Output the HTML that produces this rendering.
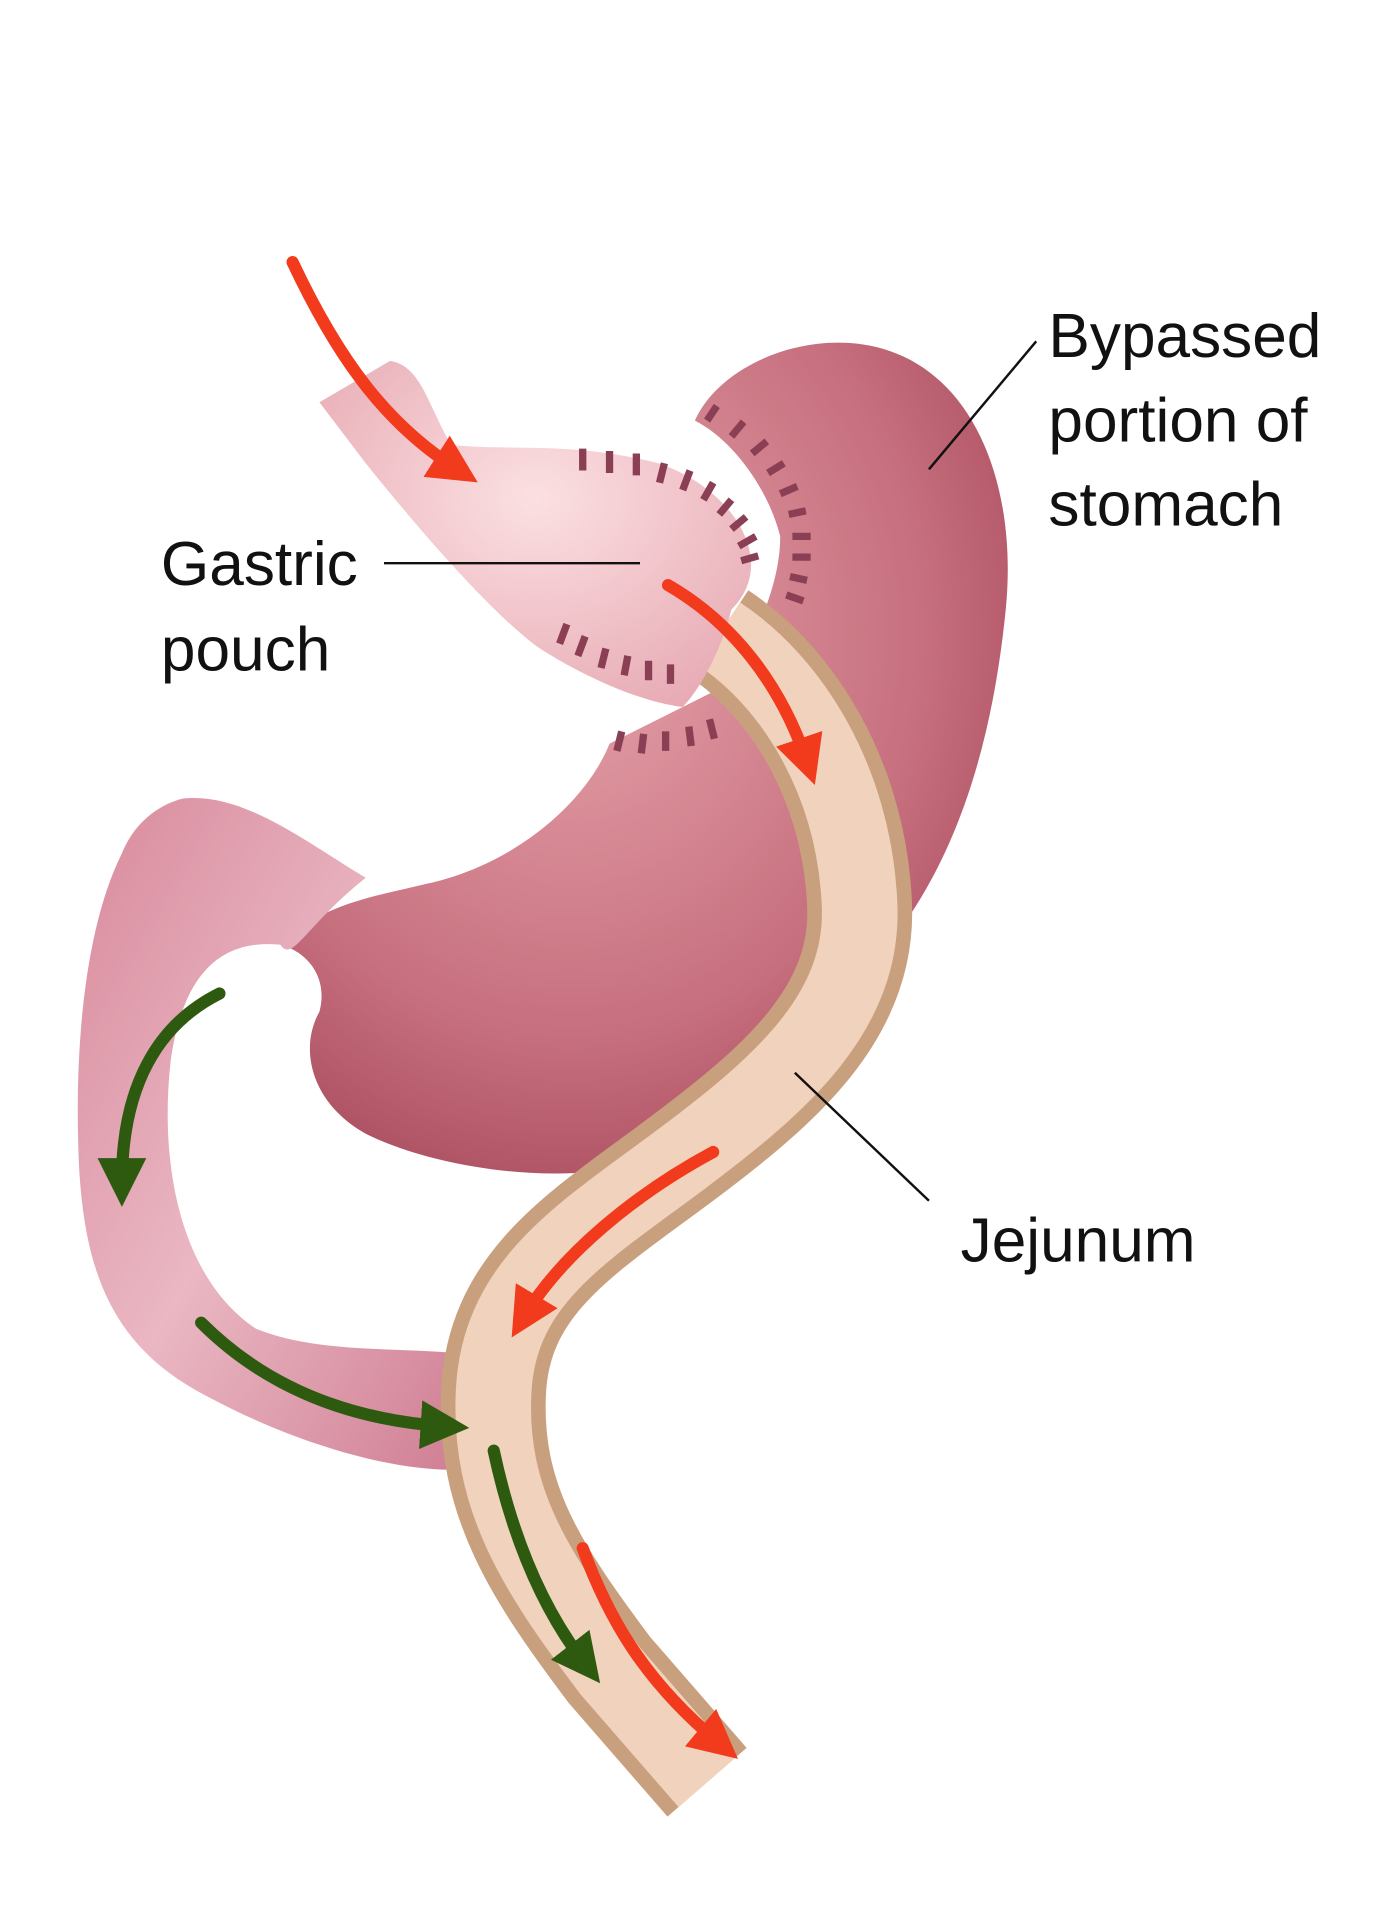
<!DOCTYPE html>
<html><head><meta charset="utf-8"><style>
html,body{margin:0;padding:0;background:#fff}
svg{display:block}
text{font-family:"Liberation Sans",sans-serif;font-size:51px;fill:#111}
</style></head><body>
<svg width="1380" height="1920" viewBox="0 0 1132 1575" preserveAspectRatio="none" xmlns="http://www.w3.org/2000/svg">
<defs>
<radialGradient id="st" cx="0.4" cy="0.35" r="0.8">
<stop offset="0" stop-color="#e6a3aa"/><stop offset="0.6" stop-color="#c7707f"/><stop offset="1" stop-color="#9e3f52"/></radialGradient>
<radialGradient id="pk" cx="0.5" cy="0.4" r="0.7">
<stop offset="0" stop-color="#fbe0e2"/><stop offset="1" stop-color="#e7a9b3"/></radialGradient>
<linearGradient id="du" x1="0" y1="0" x2="1" y2="1">
<stop offset="0" stop-color="#d88a9c"/><stop offset="0.5" stop-color="#eab7c3"/><stop offset="1" stop-color="#cf7e92"/></linearGradient>
<marker id="ar" viewBox="0 0 10 10" refX="5" refY="5" markerWidth="4" markerHeight="4" orient="auto"><path d="M0,0 L10,5 L0,10 z" fill="#f23a1c"/></marker>
<marker id="ag" viewBox="0 0 10 10" refX="5" refY="5" markerWidth="4" markerHeight="4" orient="auto"><path d="M0,0 L10,5 L0,10 z" fill="#2e5a10"/></marker>
</defs>
<path d="M570,345 C590,300 660,270 720,285 C800,305 835,400 825,500 C815,600 790,690 740,760 C700,830 620,900 540,950 C470,975 360,960 300,930 C255,905 245,860 262,830 C270,800 250,780 230,775 C265,740 310,735 350,725 C420,710 480,660 500,610 L600,560 C620,520 640,480 640,440 C630,400 600,360 570,345 Z" fill="url(#st)"/>
<path d="M150,655 C200,650 250,690 300,720 C250,760 240,790 230,775 C180,770 150,800 140,870 C130,960 150,1050 210,1090 C260,1110 320,1105 375,1110 L385,1205 C330,1210 240,1185 160,1140 C90,1100 70,1040 65,960 C60,860 70,760 100,700 C110,675 130,660 150,655 Z" fill="url(#du)"/>
<path d="M590,520 C650,560 700,640 705,740 C710,830 640,890 560,950 C480,1010 410,1050 405,1140 C400,1230 440,1290 500,1370 L580,1462" fill="none" stroke="#c9a07e" stroke-width="86" stroke-linecap="butt"/>
<path d="M590,520 C650,560 700,640 705,740 C710,830 640,890 560,950 C480,1010 410,1050 405,1140 C400,1230 440,1290 500,1370 L580,1462" fill="none" stroke="#f1d3bd" stroke-width="62" stroke-linecap="butt"/>
<path d="M262,330 L320,296 C345,300 350,330 370,365 C420,370 470,362 540,380 C600,400 640,460 600,500 C590,540 570,570 560,580 C520,575 470,550 440,530 C400,500 340,430 300,380 Z" fill="url(#pk)"/>
<g stroke="#8a3f55" stroke-width="6">
<path d="M478,368v18M500,370v18M522,372v18M545,380l-4,16M566,386l-6,16M585,396l-8,14M600,410l-10,12M612,424l-12,10M620,440l-14,8M622,456l-14,4"/>
<path d="M580,345l8,-12M600,358l10,-12M617,372l12,-10M630,388l13,-8M640,405l14,-6M647,422l14,-3M650,440h15M650,457h15M648,473l14,3M645,488l14,5"/>
<path d="M465,512l-6,16M480,522l-6,16M497,532l-4,16M515,538l-3,16M532,542v16M550,545v16"/>
<path d="M510,600l-4,16M528,602l-2,16M546,600v16M565,596l2,16M582,590l4,16"/>
</g>
<g fill="none" stroke-width="10" stroke-linecap="round">
<path d="M240,215 C280,300 320,350 375,385" stroke="#f23a1c" marker-end="url(#ar)"/>
<path d="M548,480 C600,510 640,560 662,625" stroke="#f23a1c" marker-end="url(#ar)"/>
<path d="M585,945 C520,980 460,1030 430,1080" stroke="#f23a1c" marker-end="url(#ar)"/>
<path d="M478,1270 C500,1330 530,1380 590,1430" stroke="#f23a1c" marker-end="url(#ar)"/>
<path d="M180,815 C130,840 100,890 100,970" stroke="#2e5a10" marker-end="url(#ag)"/>
<path d="M165,1085 C220,1140 290,1165 365,1170" stroke="#2e5a10" marker-end="url(#ag)"/>
<path d="M405,1190 C420,1260 445,1320 480,1365" stroke="#2e5a10" marker-end="url(#ag)"/>
</g>
<g stroke="#111" stroke-width="2">
<line x1="315" y1="462" x2="525" y2="462"/>
<line x1="850" y1="280" x2="762" y2="385"/>
<line x1="652" y1="880" x2="762" y2="985"/>
</g>
<text x="132" y="480">Gastric</text>
<text x="132" y="550">pouch</text>
<text x="860" y="293">Bypassed</text>
<text x="860" y="362">portion of</text>
<text x="860" y="431">stomach</text>
<text x="788" y="1035">Jejunum</text>
</svg>
</body></html>
